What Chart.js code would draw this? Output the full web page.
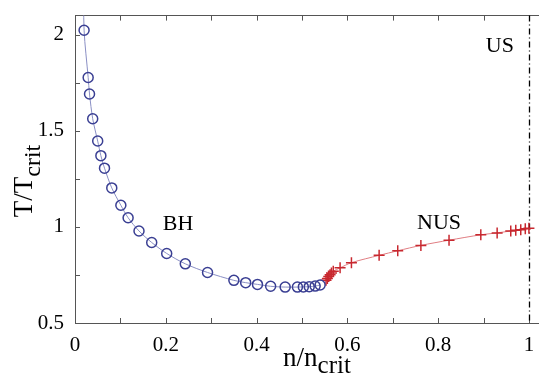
<!DOCTYPE html>
<html>
<head>
<meta charset="utf-8">
<script src="https://cdn.jsdelivr.net/npm/chart.js@4"></script>
<style>
    html, body { margin: 0; padding: 0; background: #fff; }
    #wrap { width: 545px; height: 374px; }
</style>
</head>
<body>
<div id="wrap"><canvas id="chart"></canvas></div>
<script>
// BH branch (circles)
const bhN = [0.019, 0.020, 0.029, 0.032, 0.039, 0.050, 0.057, 0.065, 0.081, 0.101, 0.117, 0.141, 0.169, 0.202,
             0.243, 0.292, 0.350, 0.376, 0.402, 0.431, 0.463, 0.490, 0.503, 0.516, 0.529, 0.540];
const bhT = [2.30, 2.024, 1.778, 1.692, 1.563, 1.447, 1.371, 1.306, 1.203, 1.113, 1.048, 0.979, 0.919, 0.862,
             0.808, 0.763, 0.722, 0.710, 0.701, 0.691, 0.687, 0.687, 0.688, 0.689, 0.692, 0.698];

// NUS branch (crosses)
const nusN = [0.553, 0.556, 0.559, 0.562, 0.565, 0.569, 0.584, 0.609, 0.670, 0.711, 0.762, 0.824, 0.894,
              0.930, 0.960, 0.971, 0.982, 0.992, 1.000];
const nusT = [0.722, 0.732, 0.742, 0.751, 0.760, 0.770, 0.787, 0.814, 0.852, 0.876, 0.904, 0.931, 0.959,
              0.969, 0.979, 0.983, 0.986, 0.990, 0.993];

const xTicks = [0, 0.2, 0.4, 0.6, 0.8, 1];
const xTickLabels = ['0', '0.2', '0.4', '0.6', '0.8', '1'];
const yTicks = [0.5, 1, 1.5, 2];
const yTickLabels = ['0.5', '1', '1.5', '2'];
const xMinor = [0.1, 0.3, 0.5, 0.7, 0.9];
const yMinor = [0.75, 1.25, 1.75];

const regionLabels = [
    { text: 'BH', x: 0.227, y: 1.015 },
    { text: 'NUS', x: 0.802, y: 1.02 },
    { text: 'US', x: 0.936, y: 1.943 }
];
const usLine = 1.0;

const serif = '"Liberation Serif", "DejaVu Serif", serif';

function toPts(xs, ys) {
    return xs.map((x, i) => ({ x: x, y: ys[i] }));
}

// draws "main" followed by a lowered subscript, centred on 0
function subText(ctx, main, sub, mainSize, subSize, drop) {
    ctx.font = mainSize + 'px ' + serif;
    const w1 = ctx.measureText(main).width;
    ctx.font = subSize + 'px ' + serif;
    const w2 = ctx.measureText(sub).width;
    const s0 = -(w1 + w2) / 2;
    ctx.font = mainSize + 'px ' + serif;
    ctx.fillText(main, s0, 0);
    ctx.font = subSize + 'px ' + serif;
    ctx.fillText(sub, s0 + w1, drop);
}

// inward tick marks, dash-dot line at n = n_crit, text labels
const decorations = {
    id: 'decorations',
    beforeDatasetsDraw(chart) {
        const { ctx, chartArea: a, scales: { x, y } } = chart;
        ctx.save();
        ctx.strokeStyle = '#555';
        ctx.lineWidth = 1;
        ctx.beginPath();
        xTicks.concat(xMinor).forEach(v => {
            const px = Math.round(x.getPixelForValue(v)) + 0.5;
            ctx.moveTo(px, a.bottom); ctx.lineTo(px, a.bottom - 5);
            ctx.moveTo(px, a.top); ctx.lineTo(px, a.top + 5);
        });
        yTicks.concat(yMinor).forEach(v => {
            const py = Math.round(y.getPixelForValue(v)) + 0.5;
            ctx.moveTo(a.left, py); ctx.lineTo(a.left + 5, py);
        });
        ctx.stroke();

        // dash-dot vertical
        const ux = Math.round(x.getPixelForValue(usLine)) + 0.5;
        ctx.strokeStyle = '#000';
        ctx.lineWidth = 1.3;
        ctx.setLineDash([6, 3, 1, 3]);
        ctx.beginPath();
        ctx.moveTo(ux, a.top); ctx.lineTo(ux, a.bottom);
        ctx.stroke();
        ctx.restore();
    },
    afterDraw(chart) {
        const { ctx, chartArea: a, scales: { x, y } } = chart;
        ctx.save();
        ctx.fillStyle = '#000';
        ctx.textAlign = 'center';
        ctx.textBaseline = 'middle';
        ctx.font = '22px ' + serif;
        regionLabels.forEach(l => {
            ctx.fillText(l.text, x.getPixelForValue(l.x), y.getPixelForValue(l.y));
        });

        ctx.textAlign = 'left';
        ctx.textBaseline = 'alphabetic';

        // x axis title n/n_crit
        ctx.save();
        ctx.translate(317, 366);
        subText(ctx, 'n/n', 'crit', 27, 25, 7);
        ctx.restore();

        // y axis title T/T_crit (rotated)
        ctx.translate(32, 181);
        ctx.rotate(-Math.PI / 2);
        subText(ctx, 'T/T', 'crit', 27, 24, 8);
        ctx.restore();
    }
};

new Chart(document.getElementById('chart'), {
    type: 'scatter',
    data: {
        datasets: [
            {
                label: 'BH',
                data: toPts(bhN, bhT),
                showLine: true,
                borderColor: '#8a8fc4',
                borderWidth: 1,
                tension: 0.3,
                pointStyle: 'circle',
                pointRadius: 5,
                pointBorderWidth: 1.5,
                pointBorderColor: '#3a3f93',
                pointBackgroundColor: 'rgba(0,0,0,0)'
            },
            {
                label: 'NUS',
                data: toPts(nusN, nusT),
                showLine: true,
                borderColor: '#e07d82',
                borderWidth: 1,
                tension: 0.3,
                pointStyle: 'cross',
                pointRadius: 5.5,
                pointBorderWidth: 1.5,
                pointBorderColor: '#c8282f',
                pointBackgroundColor: '#c8282f'
            }
        ]
    },
    options: {
        responsive: true,
        maintainAspectRatio: false,
        animation: false,
        layout: { padding: { top: 13, right: 0, left: 0, bottom: 0 } },
        plugins: {
            legend: { display: false },
            tooltip: { enabled: false }
        },
        scales: {
            x: {
                type: 'linear',
                min: 0,
                max: 1.02,
                afterBuildTicks: s => { s.ticks = xTicks.map(v => ({ value: v })); },
                afterFit: s => { s.height = 51; },
                grid: { display: false },
                border: { display: true, color: '#555', width: 1 },
                ticks: {
                    color: '#000',
                    padding: 2,
                    maxRotation: 0,
                    font: { family: serif, size: 21 },
                    callback: (v) => xTickLabels[xTicks.indexOf(v)] ?? ''
                }
            },
            y: {
                type: 'linear',
                min: 0.5,
                max: 2.1,
                afterBuildTicks: s => { s.ticks = yTicks.map(v => ({ value: v })); },
                afterFit: s => { s.width = 75; },
                grid: { display: false },
                border: { display: true, color: '#555', width: 1 },
                ticks: {
                    color: '#000',
                    padding: 3,
                    font: { family: serif, size: 21 },
                    callback: (v) => yTickLabels[yTicks.indexOf(v)] ?? ''
                }
            },
            x2: {
                type: 'linear',
                position: 'top',
                min: 0,
                max: 1.02,
                afterFit: s => { s.height = 0; },
                grid: { display: false },
                border: { display: true, color: '#555', width: 1 },
                ticks: { display: false }
            }
        }
    },
    plugins: [decorations]
});
</script>
</body>
</html>
